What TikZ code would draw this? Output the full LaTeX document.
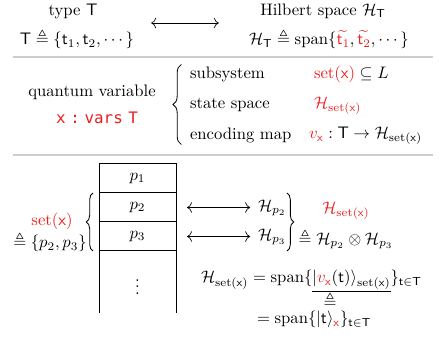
\documentclass[tikz,border=0pt]{standalone}
\usepackage{amsmath, amssymb}
\usepackage{fontspec}
\setmonofont{DejaVu Sans Mono}[Scale=0.95]
\usepackage{tikz}
\usetikzlibrary{arrows.meta, positioning, decorations.pathreplacing}
\usepackage{xcolor}
\definecolor{hlred}{RGB}{235,30,30}
\definecolor{rulegray}{RGB}{205,205,205}
\newcommand{\tyT}{\mathsf{T}}
\newcommand{\vx}{\mathsf{x}}
\newcommand{\Hs}{\mathcal{H}}
\newcommand{\setx}{\mathrm{set}(\mathsf{x})}
\newcommand{\hlr}[1]{\textcolor{hlred}{#1}}

\begin{document}
\begin{tikzpicture}[x=0.6pt, y=-0.6pt,
  txt/.style={inner sep=1pt},
  cell/.style={draw, rectangle, line width=0.6pt, outer sep=0pt, inner sep=0pt,
               minimum width=46.2pt, minimum height=17.4pt},
  biarrow/.style={{To[length=3pt]}-{To[length=3pt]}, thin},
  sepline/.style={draw=rulegray, line width=0.7pt},
  curly/.style={decorate, decoration={brace, amplitude=#1}, line width=0.5pt}
]
\useasboundingbox (0,0) rectangle (448,343);

% type and its Hilbert space
\node[txt] (type) at (73,11) {type $\tyT$};
\node[txt] (tdef) at (77,39) {$\tyT \triangleq \{\mathsf{t}_1, \mathsf{t}_2, \cdots\}$};
\node[txt] (hilb) at (323,11) {Hilbert space $\Hs_{\tyT}$};
\node[txt] (hdef) at (329,39)
      {$\Hs_{\tyT} \triangleq \mathrm{span}\{\hlr{\widetilde{\mathsf{t}_1}},
        \hlr{\widetilde{\mathsf{t}_2}}, \cdots\}$};
\draw[biarrow] ([xshift=9pt]tdef.north east |- 0,23) -- ([xshift=-17pt]hdef.north west |- 0,23);

\path[sepline] (13,57) -- (433,57);

% quantum variable
\node[txt] (qvar) at (92,92) {quantum variable};
\node[txt] (xvar) at (97,118) {\hlr{\texttt{x\hspace{0.3em}:\hspace{0.3em}vars\hspace{0.35em}T}}};
\node[txt, anchor=west] (sub) at (188,74) {subsystem};
\node[txt, anchor=west] (stsp) at (188,105) {state space};
\node[txt, anchor=west] (enc) at (188,135) {encoding map};
\node[txt, anchor=west] (subv) at (312,74) {$\hlr{\setx} \subseteq L$};
\node[txt, anchor=west] (stspv) at (312,106) {$\hlr{\Hs_{\setx}}$};
\node[txt, anchor=west] (encv) at (307,136) {$\hlr{v_{\vx}} : \tyT \to \Hs_{\setx}$};
\draw[curly=5pt] ([xshift=-4pt]enc.south west) -- ([xshift=-4pt]sub.north west);

\path[sepline] (13,155) -- (433,155);

% register column
\node[cell] (p1) at (137.5,178.5) {$p_1$};
\node[cell, below=0pt of p1] (p2) {$p_2$};
\node[cell, below=0pt of p2] (p3) {$p_3$};
\node[inner sep=0pt, outer sep=0pt, minimum width=46.2pt, minimum height=37.2pt,
      below=0pt of p3] (rest) {$\vdots$};
\draw[line width=0.6pt] (rest.north west) -- (rest.south west)
                        (rest.north east) -- (rest.south east);

\draw[curly=4pt] ([xshift=-3.6pt]p3.south west) -- ([xshift=-3.6pt]p2.north west);
\node[txt] (setx) at (52,221) {\hlr{$\setx$}};
\node[txt] (setdef) at (50,242) {$\triangleq \{p_2, p_3\}$};

\node[txt, anchor=west] (Hp2) at (256,208) {$\Hs_{p_2}$};
\node[txt, anchor=west] (Hp3) at (256,237) {$\Hs_{p_3}$};
\draw[biarrow, shorten <=6.6pt, shorten >=3.5pt] (p2.east) -- (p2.east -| Hp2.west);
\draw[biarrow, shorten <=6.6pt, shorten >=3.5pt] (p3.east) -- (p3.east -| Hp3.west);
\draw[curly=4pt] (p2.north -| 287,0) -- (p3.south -| 287,0);

\node[txt] (hset) at (346,211) {\hlr{$\Hs_{\setx}$}};
\node[txt] (hdef2) at (346,239) {$\triangleq \Hs_{p_2} \otimes \Hs_{p_3}$};

% span of the encoding
\node[txt, anchor=base west] (eqa) at (199,283)
      {$\Hs_{\setx} = \mathrm{span}\{\underline{|\hlr{v_{\vx}}(\mathsf{t})\rangle_{\setx}}\}_{\mathsf{t}\in\tyT}$};
\node[inner sep=0pt] (eqdef) at (330,301) {$\triangleq$};
\node[txt, anchor=base west] (eqb) at (255,324)
      {$= \mathrm{span}\{|\mathsf{t}\rangle_{\hlr{\vx}}\}_{\mathsf{t}\in\tyT}$};
\end{tikzpicture}
\end{document}
